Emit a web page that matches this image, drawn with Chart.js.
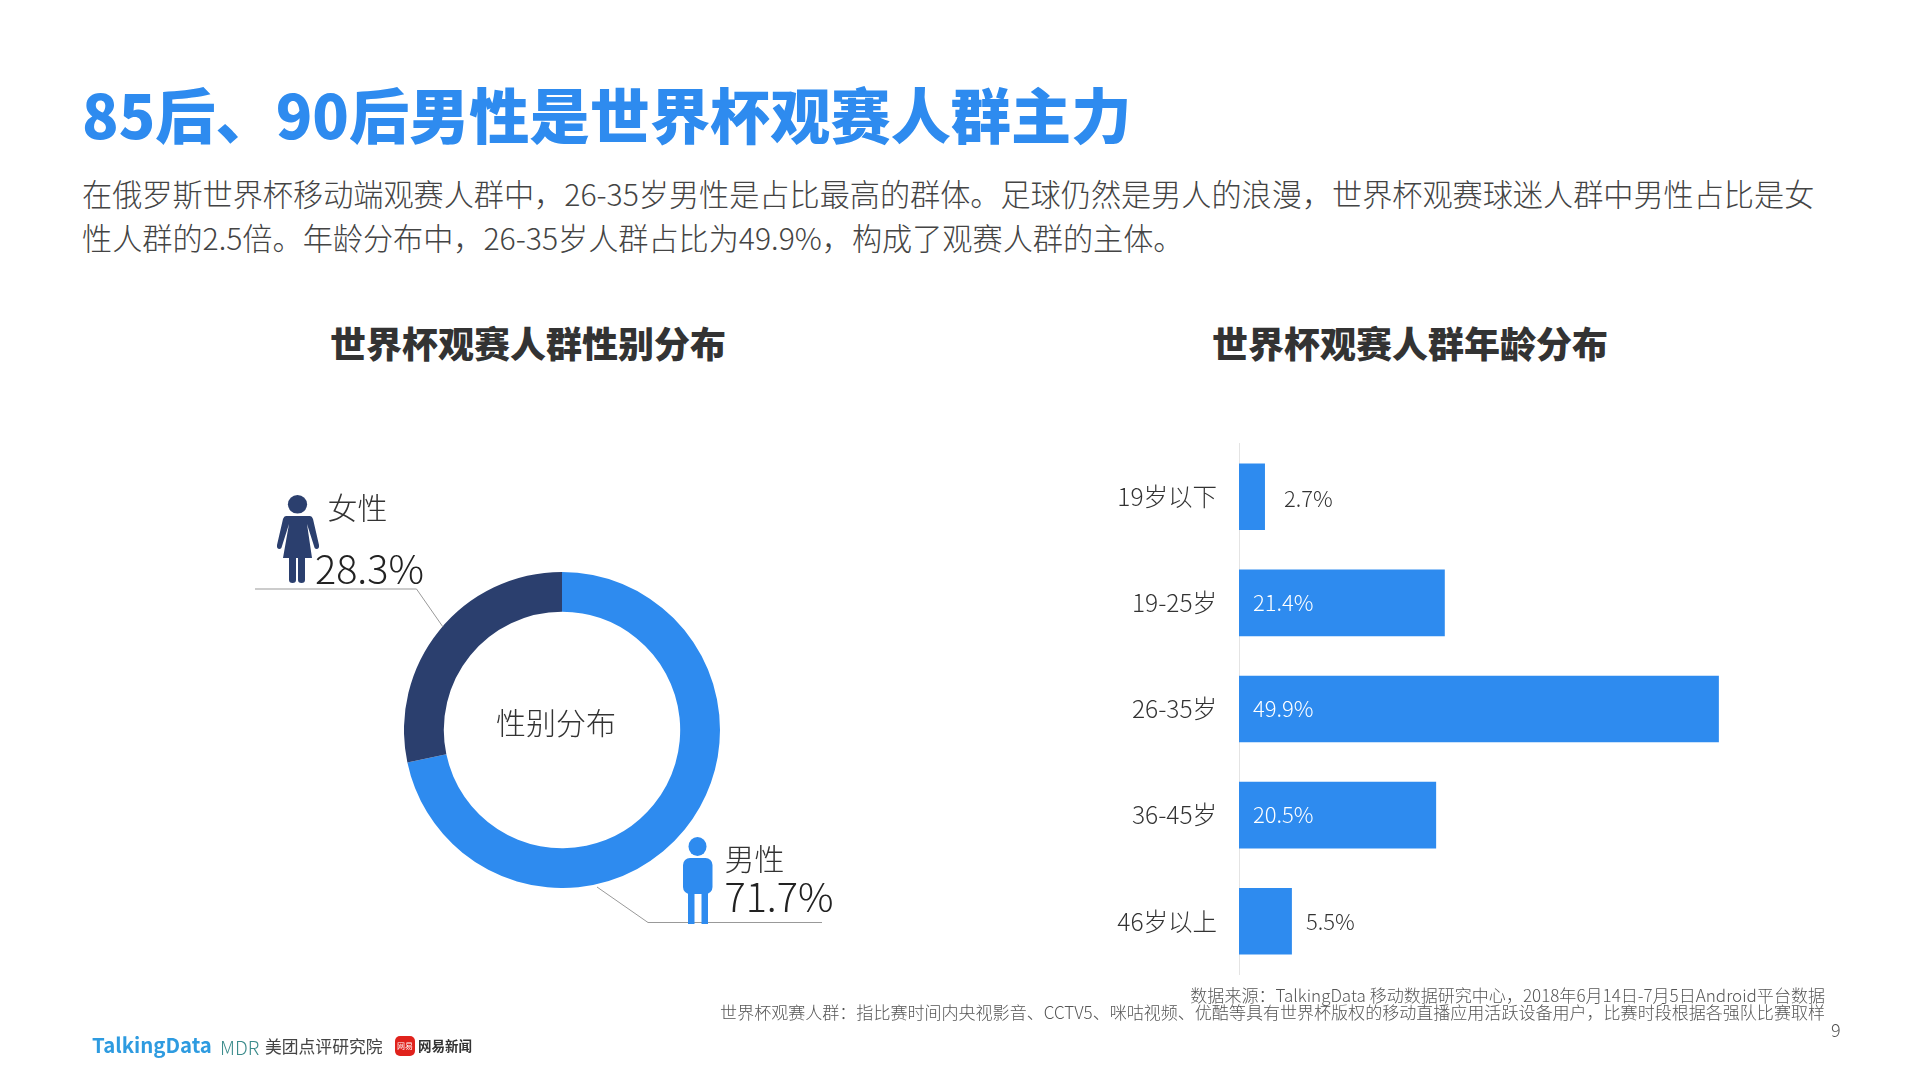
<!DOCTYPE html>
<html lang="zh">
<head>
<meta charset="utf-8">
<title>85后、90后男性是世界杯观赛人群主力</title>
<script src="https://cdn.jsdelivr.net/npm/chart.js@4/dist/chart.umd.min.js"></script>
<style>
    html, body { margin: 0; padding: 0; background: #fff; }
    body { position: relative; width: 1921px; height: 1080px; overflow: hidden; font-family: "Noto Sans CJK SC", "Noto Sans", sans-serif; color: #333; }
    .t { position: absolute; line-height: 1; white-space: nowrap; transform: translateY(-50%); }
    canvas, svg { position: absolute; }
    #headline { left: 82px; top: 112.5px; font-size: 60.2px; font-weight: 900; color: #2e8bef; }
    .intro { left: 82px; font-size: 30.15px; font-weight: 300; color: #444; }
    .section { top: 342px; font-size: 36px; font-weight: 900; color: #333; }
    .note { right: 96px; font-size: 17.04px; font-weight: 300; color: #555; }
    .label { font-size: 30px; font-weight: 300; color: #333; }
    .pct { font-size: 39.6px; font-weight: 300; color: #222; }
</style>
</head>
<body>
<div class="t" id="headline">85后、90后男性是世界杯观赛人群主力</div>
<div class="t intro" style="top:193px">在俄罗斯世界杯移动端观赛人群中，26-35岁男性是占比最高的群体。足球仍然是男人的浪漫，世界杯观赛球迷人群中男性占比是女</div>
<div class="t intro" style="top:237px">性人群的2.5倍。年龄分布中，26-35岁人群占比为49.9%，构成了观赛人群的主体。</div>
<div class="t section" style="left:330px">世界杯观赛人群性别分布</div>
<div class="t section" style="left:1212px">世界杯观赛人群年龄分布</div>

<canvas id="gender-chart" width="316" height="316" style="left:404px;top:572px"></canvas>
<canvas id="age-chart" width="782" height="604" style="left:1034px;top:407px"></canvas>

<svg width="1921" height="1080" style="left:0;top:0;pointer-events:none">
    <!-- leader lines -->
    <polyline points="255,589 416.5,589 443,627" fill="none" stroke="#999" stroke-width="1"/>
    <polyline points="597,887 648,922.5 822,922.5" fill="none" stroke="#999" stroke-width="1"/>
    <!-- woman -->
    <g fill="#2b3f6e">
        <ellipse cx="297.5" cy="504.3" rx="9.6" ry="9.3"/>
        <path d="M286 516 H310 Q312 516 313 519 L319 545 Q319.5 549 316.5 549 Q314.5 549 314 546 L307 524 L312 558 H283 L289 524 L282 546 Q281.5 549 279.5 549 Q276.5 549 277 545 L283 519 Q284 516 286 516 Z"/>
        <path d="M289 557 H296 V580 Q296 583 292.5 583 Q289 583 289 580 Z"/>
        <path d="M298 557 H305 V580 Q305 583 301.5 583 Q298 583 298 580 Z"/>
    </g>
    <!-- man -->
    <g fill="#2e8bef">
        <ellipse cx="697.5" cy="846.5" rx="9" ry="9.5"/>
        <rect x="683" y="858" width="29.5" height="36" rx="7"/>
        <rect x="688" y="888" width="6.5" height="36"/>
        <rect x="701.5" y="888" width="6.5" height="36"/>
    </g>
</svg>

<div class="t label" style="left:327.5px;top:506px">女性</div>
<div class="t pct" style="left:315px;top:567px">28.3%</div>
<div class="t label" style="left:724.5px;top:857px">男性</div>
<div class="t pct" style="left:724.5px;top:894.5px">71.7%</div>
<div class="t label" style="left:496px;top:721px">性别分布</div>

<div class="t note" style="top:994.5px">数据来源：TalkingData 移动数据研究中心，2018年6月14日-7月5日Android平台数据</div>
<div class="t note" style="top:1012px">世界杯观赛人群：指比赛时间内央视影音、CCTV5、咪咕视频、优酷等具有世界杯版权的移动直播应用活跃设备用户，比赛时段根据各强队比赛取样</div>
<div class="t" style="left:1831px;top:1029px;font-size:18px;font-weight:300;color:#555">9</div>

<!-- logos -->
<div class="t" style="left:92px;top:1044px;font-size:20.4px;font-weight:700;color:#2e9be0">TalkingData</div>
<div class="t" style="left:220px;top:1046px;font-size:19px;font-weight:300;color:#3c8c8c">MDR</div>
<div class="t" style="left:265px;top:1046px;font-size:16.8px;color:#444">美团点评研究院</div>
<div style="position:absolute;left:395px;top:1036px;width:20px;height:20px;border-radius:5px;background:#e0221c"></div>
<div class="t" style="left:397px;top:1046px;font-size:8px;color:#fff">网易</div>
<div class="t" style="left:418px;top:1046px;font-size:13.5px;font-weight:700;color:#333">网易新闻</div>

<script>
const genderLabels = ['男性', '女性'];
const genderValues = [71.7, 28.3];
const genderColors = ['#2e8bef', '#2b3f6e'];

const ageLabels = ['19岁以下', '19-25岁', '26-35岁', '36-45岁', '46岁以上'];
const ageValues = [2.7, 21.4, 49.9, 20.5, 5.5];

const FONT = '"Noto Sans CJK SC", "Noto Sans", sans-serif';
const INSIDE_MIN = 10; // bars shorter than this carry their label outside

new Chart(document.getElementById('gender-chart'), {
    type: 'doughnut',
    data: {
        labels: genderLabels,
        datasets: [{ data: genderValues, backgroundColor: genderColors, borderWidth: 0 }]
    },
    options: {
        responsive: false,
        animation: false,
        cutout: '74.8%',
        plugins: { legend: { display: false }, tooltip: { enabled: false } }
    }
});

const barLabels = {
    id: 'barLabels',
    afterDatasetsDraw(chart) {
        const ctx = chart.ctx;
        const bars = chart.getDatasetMeta(0).data;
        ctx.save();
        ctx.font = `300 22px ${FONT}`;
        ctx.textBaseline = 'middle';
        bars.forEach((bar, i) => {
            const value = ageValues[i];
            const inside = value >= INSIDE_MIN;
            ctx.fillStyle = inside ? '#fff' : '#333';
            // the last label sits closer to its bar than the first one
            const gap = i === 0 ? 19 : 14;
            const x = inside ? bar.base + 14 : bar.x + gap;
            ctx.fillText(value.toFixed(1) + '%', x, bar.y + (i === 0 ? 2 : 0));
        });
        ctx.restore();
    }
};

new Chart(document.getElementById('age-chart'), {
    type: 'bar',
    data: {
        labels: ageLabels,
        datasets: [{
            data: ageValues,
            backgroundColor: '#2e8bef',
            barPercentage: 0.628,
            categoryPercentage: 1
        }]
    },
    options: {
        indexAxis: 'y',
        responsive: false,
        animation: false,
        layout: { padding: 0 },
        plugins: { legend: { display: false }, tooltip: { enabled: false } },
        scales: {
            x: { display: false, min: 0, max: 60 },
            y: {
                afterFit: scale => { scale.width = 205; },
                grid: { display: false, drawTicks: false },
                border: { display: true, color: '#e4e4e4', width: 1 },
                ticks: {
                    padding: 22,
                    color: '#333',
                    font: { family: FONT, size: 24.5, weight: 300 }
                }
            }
        }
    },
    plugins: [barLabels]
});
</script>
</body>
</html>
